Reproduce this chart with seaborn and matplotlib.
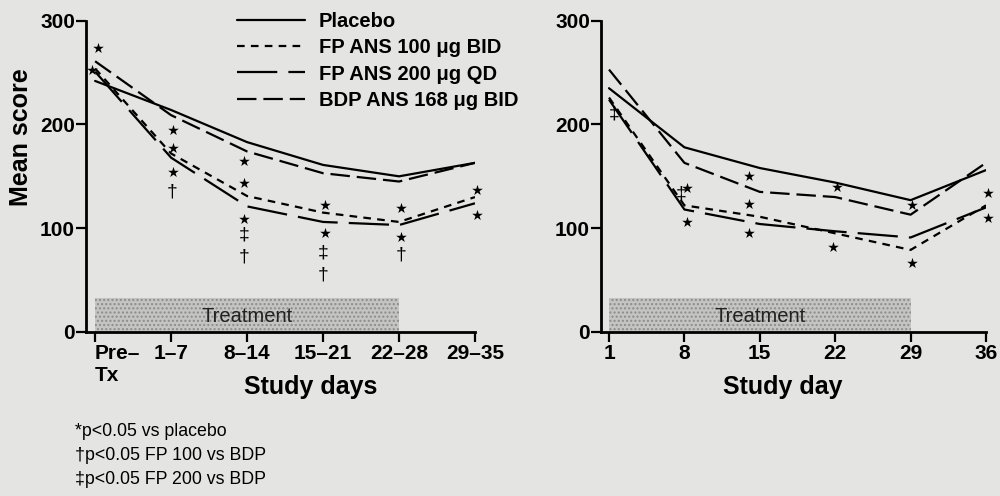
import matplotlib
matplotlib.use("Agg")
import matplotlib.pyplot as plt
import seaborn as sns
import pandas as pd
import numpy as np
from matplotlib.patches import Rectangle
from matplotlib.font_manager import FontProperties

# ---------------- data ----------------
series_names = ["Placebo", "FP ANS 100 \u03bcg BID", "FP ANS 200 \u03bcg QD", "BDP ANS 168 \u03bcg BID"]

left_periods = ["Pre\u2013\nTx", "1\u20137", "8\u201314", "15\u201321", "22\u201328", "29\u201335"]
placebo_left = [242, 214, 183, 161, 150, 163]
fp100_left = [254, 172, 131, 115, 106, 130]
fp200_left = [251, 168, 121, 106, 103, 124]
bdp_left = [261, 209, 174, 153, 145, 163]

right_days = [1, 8, 15, 22, 29, 36]
placebo_right = [235, 178, 158, 144, 127, 156]
fp100_right = [226, 122, 111, 95, 79, 122]
fp200_right = [224, 118, 104, 97, 91, 120]
bdp_right = [253, 163, 135, 130, 113, 163]

y_ticks = [0, 100, 200, 300]

# significance marks (x in axis units, y = score)
left_star_x = [0.04, -0.04, 1.03, 1.03, 1.03, 1.96, 1.96, 1.96, 3.02, 3.02, 4.03, 4.03, 5.02, 5.02]
left_star_y = [274, 253, 195, 177, 154, 165, 144, 109, 122, 95, 119, 91, 137, 113]
left_dagger_x = [1.01, 1.96, 3.0, 4.03]
left_dagger_y = [135, 72, 55, 74]
left_ddagger_x = [1.96, 3.0]
left_ddagger_y = [93, 76]

right_star_x = [8.2, 8.2, 14.0, 14.0, 14.0, 22.2, 21.8, 29.1, 29.1, 36.2, 36.2]
right_star_y = [139, 106, 150, 123, 95, 140, 82, 122, 66, 134, 110]
right_ddagger_x = [1.45, 7.7]
right_ddagger_y = [210, 133]

treat_left = (0, 4)
treat_right = (1, 29)
treat_height = 33

footnotes = ["*p<0.05 vs placebo", "\u2020p<0.05 FP 100 vs BDP", "\u2021p<0.05 FP 200 vs BDP"]

# ---------------- style ----------------
sns.set_style("ticks")
BG = "#e4e4e2"
plt.rcParams["font.family"] = ["Liberation Sans", "DejaVu Sans"]
plt.rcParams["lines.scale_dashes"] = False
plt.rcParams["axes.linewidth"] = 2.0
for k in ["text.color", "axes.labelcolor", "xtick.color", "ytick.color", "axes.edgecolor"]:
    plt.rcParams[k] = "black"

dash_map = {
    series_names[0]: "",
    series_names[1]: (5.5, 4.5),
    series_names[2]: (29, 8),
    series_names[3]: (14, 5),
}

fig = plt.figure(figsize=(10, 4.96), dpi=100, facecolor=BG)
axL = fig.add_axes([0.086, 0.331, 0.389, 0.627])
axR = fig.add_axes([0.601, 0.331, 0.385, 0.627])

left_pos = list(range(len(left_periods)))
df_left = pd.DataFrame({
    "x": left_pos * 4,
    "score": placebo_left + fp100_left + fp200_left + bdp_left,
    "treatment": np.repeat(series_names, len(left_pos)),
})
df_right = pd.DataFrame({
    "x": right_days * 4,
    "score": placebo_right + fp100_right + fp200_right + bdp_right,
    "treatment": np.repeat(series_names, len(right_days)),
})

for ax, df, treat in [(axL, df_left, treat_left), (axR, df_right, treat_right)]:
    ax.set_facecolor(BG)
    ax.add_patch(Rectangle((treat[0], 0), treat[1] - treat[0], treat_height,
                           facecolor="#c4c4c2", edgecolor="#8c8c8c", hatch="....",
                           linewidth=0, zorder=1))
    ax.text((treat[0] + treat[1]) / 2, 15, "Treatment", ha="center", va="center",
            fontsize=14.5, color="#222222", zorder=2)
    sns.lineplot(data=df, x="x", y="score", style="treatment", style_order=series_names,
                 dashes=dash_map, color="black", linewidth=1.6, errorbar=None,
                 legend=False, ax=ax, zorder=3)
    ax.set_ylim(0, 300)
    ax.set_yticks(y_ticks)
    ax.set_xlabel("")
    ax.set_ylabel("")
    for s in ["top", "right"]:
        ax.spines[s].set_visible(False)
    ax.tick_params(direction="out", length=7, width=1.6, labelsize=15, pad=2)
    ax.tick_params(axis="y", pad=1)
    for lab in ax.get_xticklabels() + ax.get_yticklabels():
        lab.set_fontweight("bold")

axL.set_xlim(-0.12, 5.0)
axL.set_xticks(left_pos)
axL.set_xticklabels(left_periods, fontsize=15, fontweight="bold")
first = axL.get_xticklabels()[0]
first.set_ha("left")
first.set_multialignment("left")

axR.set_xlim(1 - 8 / 10.77, 36)
axR.set_xticks(right_days)
axR.set_xticklabels([str(d) for d in right_days], fontsize=15, fontweight="bold")

# significance markers
axL.scatter(left_star_x, left_star_y, marker="*", s=65, color="black", zorder=4, clip_on=False, linewidths=0)
axR.scatter(right_star_x, right_star_y, marker="*", s=65, color="black", zorder=4, clip_on=False, linewidths=0)
for x, y in zip(left_dagger_x, left_dagger_y):
    axL.text(x, y, "\u2020", ha="center", va="center", fontsize=14, zorder=4)
for x, y in zip(left_ddagger_x, left_ddagger_y):
    axL.text(x, y, "\u2021", ha="center", va="center", fontsize=14, zorder=4)
for x, y in zip(right_ddagger_x, right_ddagger_y):
    axR.text(x, y, "\u2021", ha="center", va="center", fontsize=14, zorder=4)

# legend
handles = axL.get_lines()[:4]
axL.legend(handles, series_names, loc="upper left",
           bbox_to_anchor=(0.237, 1 - 12 / 496), bbox_transform=fig.transFigure,
           frameon=False, borderpad=0, borderaxespad=0, handlelength=3.4,
           handletextpad=0.65, labelspacing=0.36,
           prop=FontProperties(family="Liberation Sans", weight="bold", size=14.5))

# axis labels
fig.text(0.021, 1 - 137 / 496, "Mean score", rotation=90, ha="center", va="center",
         fontsize=18, fontweight="bold")
fig.text(0.311, 1 - 387 / 496, "Study days", ha="center", va="center",
         fontsize=18, fontweight="bold")
fig.text(0.783, 1 - 387 / 496, "Study day", ha="center", va="center",
         fontsize=18, fontweight="bold")

# footnotes
for i, t in enumerate(footnotes):
    fig.text(0.075, 1 - (431 + 24.5 * i) / 496, t, ha="left", va="center",
             fontsize=12.8)

fig.savefig("out.png", dpi=100, facecolor=BG)
